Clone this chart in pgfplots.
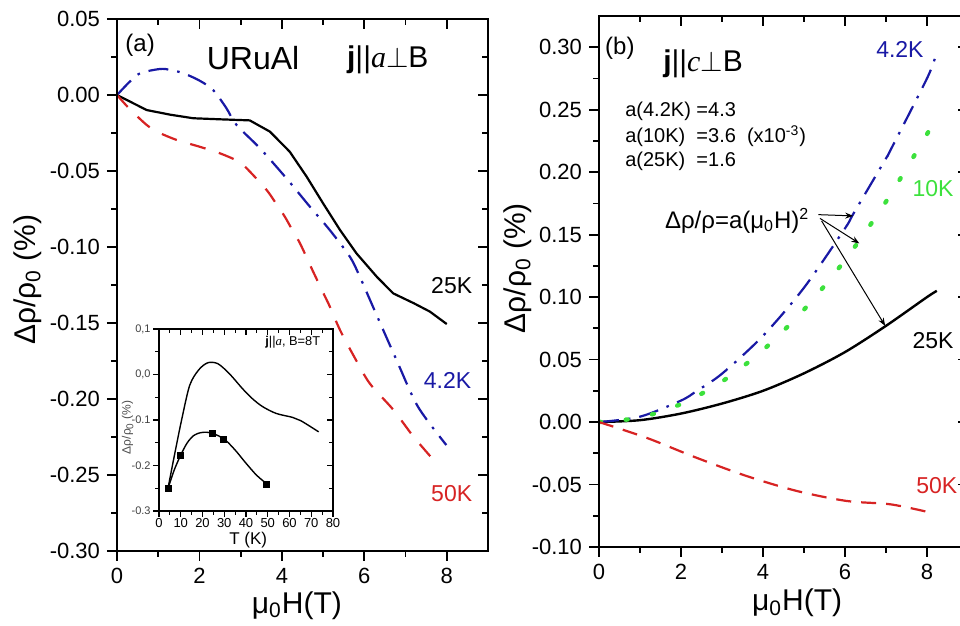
\documentclass[border=0pt]{standalone}
\usepackage{fontspec}
\setmainfont{Liberation Sans}
\newfontfamily\tnr{Liberation Serif}
\usepackage{pgfplots}
\pgfplotsset{compat=1.18}
\usetikzlibrary{arrows.meta}
\definecolor{cblue}{RGB}{25,25,165}
\definecolor{cred}{RGB}{215,35,35}
\definecolor{cgreen}{RGB}{60,225,60}
\newcommand{\fs}[1]{\fontsize{#1}{#1}\selectfont}

\pgfplotsset{
  mainax/.style={
    scale only axis, anchor=south west,
    axis line style={line width=1pt},
    every tick/.style={line width=0.9pt, black},
    major tick length=5pt, minor tick length=3pt,
    tick align=outside, xtick pos=left, ytick pos=left,
    ticklabel style={font=\fs{11}},
    /pgf/number format/assume math mode=true,
    scaled y ticks=false,
    yticklabel style={/pgf/number format/fixed, /pgf/number format/fixed zerofill, /pgf/number format/precision=2},
    xtick={0,2,4,6,8}, minor x tick num=1, minor y tick num=1,
    xlabel={μ\textsubscript{0}H(T)},
    ylabel={Δρ/ρ\textsubscript{0} (\%)},
    label style={font=\fs{15}},
  },
  mirrorax/.style={
    scale only axis, anchor=south west,
    axis line style={line width=1pt},
    every tick/.style={line width=0.9pt, black},
    major tick length=5pt, minor tick length=3pt,
    tick align=inside, xtick pos=right, ytick pos=right,
    xticklabels={}, yticklabels={},
    xtick={0,2,4,6,8}, minor x tick num=1, minor y tick num=1,
  },
  dashdot/.style={dash pattern=on 10pt off 4.5pt on 1.3pt off 4.5pt},
}

\pgfplotstableread{
H r
0 0
0.72 -0.0099
1.3 -0.0130
1.85 -0.0153
2.5 -0.0160
3.22 -0.0167
3.71 -0.0241
4.19 -0.0373
4.6 -0.0537
5.0 -0.0713
5.41 -0.0888
5.81 -0.1042
6.30 -0.1195
6.70 -0.1305
7.2 -0.1370
7.59 -0.1425
8.0 -0.1507
}\aTwentyFive

\pgfplotstableread{
H r
0 0
0.3 0.0085
0.56 0.0143
1.04 0.0171
1.3 0.0165
1.61 0.0143
2.0 0.0095
2.33 0.0033
2.65 -0.0085
2.90 -0.0197
3.47 -0.0351
4.11 -0.0548
4.68 -0.0735
5.16 -0.0888
5.65 -0.1064
5.89 -0.1195
6.21 -0.1393
6.78 -0.1743
7.30 -0.2050
7.99 -0.2303
}\aFour

\pgfplotstableread{
H r
0 0
0.3 -0.0090
0.72 -0.0197
1.0 -0.0245
1.45 -0.0296
2.0 -0.0340
2.50 -0.0384
2.9 -0.0430
3.06 -0.0460
3.30 -0.0526
3.63 -0.0625
3.83 -0.0702
4.07 -0.0800
4.23 -0.0877
4.44 -0.0976
4.72 -0.1140
5.0 -0.1300
5.16 -0.1390
5.41 -0.1546
5.75 -0.1720
6.13 -0.1897
6.70 -0.2070
7.2 -0.2250
7.75 -0.2423
}\aFifty

\pgfplotstableread{
T r
4.1 -0.251
7.2 -0.175
10.3 -0.102
14.1 -0.024
18.3 0.0104
22.5 0.0259
27.1 0.0236
32.4 0.0015
38.5 -0.0317
43.1 -0.0538
47.7 -0.0708
53.9 -0.0856
61.5 -0.0944
65.3 -0.1018
73.4 -0.126
}\inUpper

\pgfplotstableread{
T r
4.1 -0.251
7 -0.210
10 -0.177
13 -0.150
16 -0.134
19 -0.128
22 -0.127
25 -0.130
30 -0.142
35 -0.166
40 -0.195
45 -0.222
50 -0.242
}\inLower

\pgfplotstableread{
T r
4.1 -0.251
10 -0.177
24.5 -0.130
29.7 -0.142
49.5 -0.242
}\inMarks

\pgfplotstableread{
H r
0 0
1 0.0015
2 0.0068
3 0.0148
4 0.0250
5 0.0390
6 0.0560
7 0.0770
8 0.1000
8.24 0.1050
}\bTwentyFive

\pgfplotstableread{
H r
0 0
1 0.0043
2 0.0172
2.38 0.0248
3 0.0387
4 0.0690
5 0.1075
6 0.1550
6.21 0.1670
7 0.2110
7.1 0.2170
8 0.2750
8.2 0.2920
}\bFour

\pgfplotstableread{
H r
0 0
1 0.0036
2 0.0144
3 0.0324
4 0.0576
5 0.0900
6 0.1296
7 0.1764
8 0.2304
8.07 0.2354
}\bTen

\pgfplotstableread{
H r
0 0
1.16 -0.0126
2.38 -0.0286
3.6 -0.0432
4.83 -0.0552
6.05 -0.0632
7.1 -0.0658
8.0 -0.0718
}\bFifty

\begin{document}
\begin{tikzpicture}
\path[use as bounding box] (0,0) rectangle (480pt,313pt);

% ---------------- panel (a)
\begin{axis}[mainax, at={(58.5pt,37.5pt)}, width=185.5pt, height=266pt,
  xmin=0, xmax=9, ymin=-0.30, ymax=0.05,
  ytick={-0.30,-0.25,...,0.051},
  xlabel style={at={(axis description cs:0.485,-0.102)}, anchor=center},
  ylabel style={at={(axis description cs:-0.24,0.51)}, anchor=center},
]
\addplot[black, line width=1.1pt] table[x=H,y=r] {\aTwentyFive};
\addplot[cblue, line width=1.1pt, smooth, dashdot] table[x=H,y=r] {\aFour};
\addplot[cred, line width=1.1pt, smooth, dash pattern=on 8pt off 7pt] table[x=H,y=r] {\aFifty};
\node[font=\fs{12}] at (axis cs:0.56,0.0329) {(a)};
\node[font=\fs{16}] at (axis cs:3.30,0.0243) {URuAl};
\node[font=\fs{15}] at (axis cs:6.57,0.023) {\textbf{j}||{\tnr\itshape a}$\perp$B};
\node[font=\fs{11.5}] at (axis cs:8.12,-0.1257) {25K};
\node[font=\fs{11.5}, text=cblue] at (axis cs:8.02,-0.1875) {4.2K};
\node[font=\fs{11.5}, text=cred] at (axis cs:8.12,-0.262) {50K};
\end{axis}
\begin{axis}[mirrorax, at={(58.5pt,37.5pt)}, width=185.5pt, height=266pt,
  xmin=0, xmax=9, ymin=-0.30, ymax=0.05, ytick={-0.30,-0.25,...,0.051}]
\end{axis}

% ---------------- inset
\begin{axis}[scale only axis, anchor=south west, at={(79.5pt,57.5pt)}, width=87pt, height=91pt,
  xmin=0, xmax=80, ymin=-0.3, ymax=0.1,
  axis background/.style={fill=white},
  axis line style={line width=0.7pt},
  every tick/.style={line width=0.6pt, black},
  major tick length=3pt, minor tick length=1.8pt,
  tick align=outside, xtick pos=left, ytick pos=left,
  xtick={0,10,...,80}, minor x tick num=1,
  ytick={-0.3,-0.2,-0.1,0,0.1}, minor y tick num=1,
  yticklabels={-0.3,-0.2,-0.1,{0,0},{0,1}},
  xticklabel style={font=\fs{6.5}, inner sep=0.5pt},
  yticklabel style={font=\fs{5.5}, text=black!75, inner sep=1pt},
  /pgf/number format/assume math mode=true,
  xlabel={T (K)}, xlabel style={font=\fs{8.5}, at={(axis description cs:0.513,-0.16)}, anchor=center},
  ylabel={Δρ/ρ\textsubscript{0} (\%)}, ylabel style={font=\fs{6}, text=black!70, at={(axis description cs:-0.18,0.46)}, anchor=center},
]
\addplot[black, line width=0.7pt, smooth] table[x=T,y=r] {\inUpper};
\addplot[black, line width=0.7pt, smooth] table[x=T,y=r] {\inLower};
\addplot[black, only marks, mark=square*, mark size=1.5pt] table[x=T,y=r] {\inMarks};
\node[font=\fs{6.4}] at (axis cs:61.5,0.071) {\textbf{j}||{\tnr\itshape a}, B=8T};
\end{axis}
\begin{axis}[scale only axis, anchor=south west, at={(79.5pt,57.5pt)}, width=87pt, height=91pt,
  xmin=0, xmax=80, ymin=-0.3, ymax=0.1,
  axis line style={line width=0.7pt},
  every tick/.style={line width=0.6pt, black},
  major tick length=3pt, minor tick length=1.8pt,
  tick align=inside, xtick pos=right, ytick pos=right,
  xtick={0,10,...,80}, minor x tick num=1,
  ytick={-0.3,-0.2,-0.1,0,0.1}, minor y tick num=1,
  xticklabels={}, yticklabels={}]
\end{axis}

% ---------------- panel (b)
\begin{axis}[mainax, at={(299.5pt,39.5pt)}, width=184.5pt, height=265.5pt,
  xmin=0, xmax=9, ymin=-0.10, ymax=0.325,
  ytick={-0.10,-0.05,...,0.301},
  xlabel style={at={(axis description cs:0.537,-0.105)}, anchor=center},
  ylabel style={at={(axis description cs:-0.22,0.525)}, anchor=center},
]
\addplot[black, line width=1.2pt, smooth] table[x=H,y=r] {\bTwentyFive};
\addplot[cblue, line width=1.1pt, smooth, dashdot] table[x=H,y=r] {\bFour};
\addplot[cgreen, line width=2.2pt, smooth, line cap=round, dash pattern=on 1pt off 12.4pt] table[x=H,y=r] {\bTen};
\addplot[cred, line width=1.1pt, smooth, dash pattern=on 7.5pt off 5pt] table[x=H,y=r] {\bFifty};
\node[font=\fs{12}] at (axis cs:0.51,0.299) {(b)};
\node[font=\fs{15}] at (axis cs:2.54,0.287) {\textbf{j}||{\tnr\itshape c}$\perp$B};
\node[font=\fs{10}, anchor=west] at (axis cs:0.47,0.249) {a(4.2K) =4.3};
\node[font=\fs{10}, anchor=west] at (axis cs:0.47,0.229) {a(10K) \ =3.6 \ (x10\textsuperscript{-3})};
\node[font=\fs{10}, anchor=west] at (axis cs:0.47,0.209) {a(25K) \ =1.6};
\node[font=\fs{12}] at (axis cs:3.37,0.161) {Δρ/ρ=a(μ\textsubscript{0}H)\textsuperscript{2}};
\draw[-{Stealth[length=4pt,width=3pt]}, line width=0.5pt] (axis cs:5.35,0.166) -- (axis cs:6.2,0.165);
\draw[-{Stealth[length=4pt,width=3pt]}, line width=0.5pt] (axis cs:5.39,0.163) -- (axis cs:6.35,0.143);
\draw[-{Stealth[length=4pt,width=3pt]}, line width=0.5pt] (axis cs:5.43,0.161) -- (axis cs:6.98,0.077);
\node[font=\fs{11.5}, text=cblue] at (axis cs:7.34,0.298) {4.2K};
\node[font=\fs{11.5}, text=cgreen] at (axis cs:8.15,0.187) {10K};
\node[font=\fs{11.5}] at (axis cs:8.15,0.065) {25K};
\node[font=\fs{11.5}, text=cred] at (axis cs:8.24,-0.0512) {50K};
\end{axis}
\begin{axis}[mirrorax, at={(299.5pt,39.5pt)}, width=184.5pt, height=265.5pt,
  xmin=0, xmax=9, ymin=-0.10, ymax=0.325, ytick={-0.10,-0.05,...,0.301}]
\end{axis}
\end{tikzpicture}
\end{document}
